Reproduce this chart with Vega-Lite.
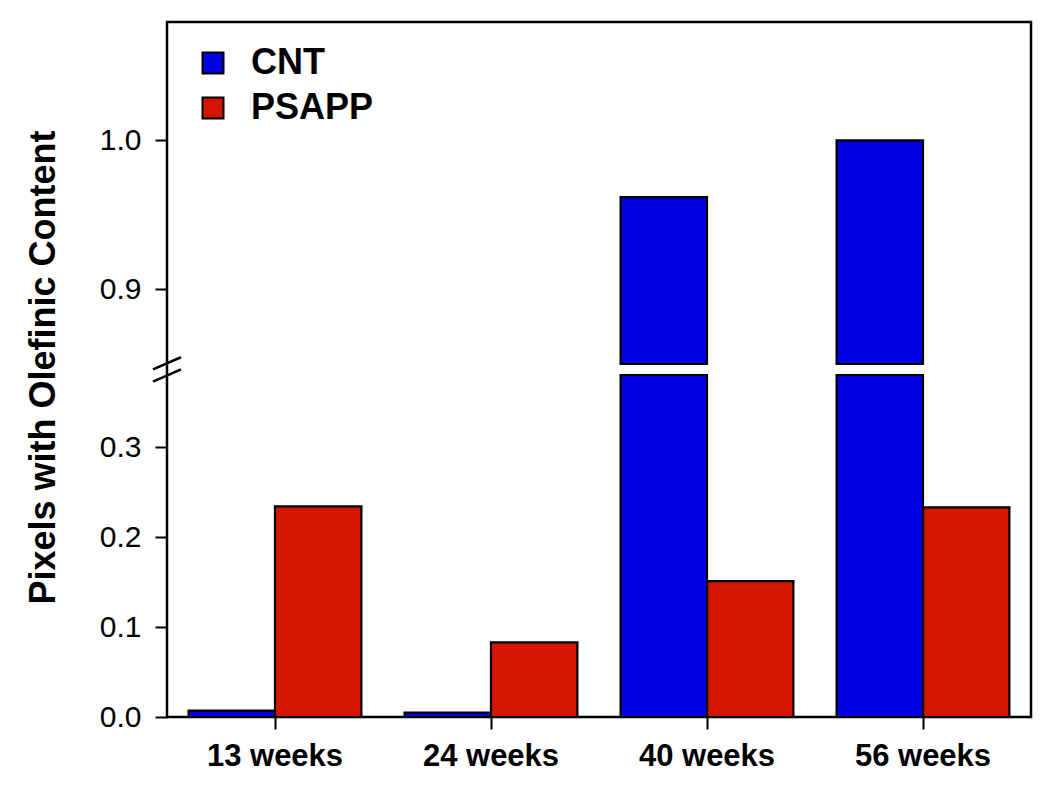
{
  "$schema": "https://vega.github.io/schema/vega-lite/v6.json",
  "width": 864,
  "height": 695,
  "autosize": {"type": "none"},
  "padding": {"left": 167, "top": 22, "right": 19, "bottom": 69},
  "background": "white",
  "data": {
    "values": [
      {"age": "13 weeks", "group": "CNT", "value": 0.007},
      {"age": "13 weeks", "group": "PSAPP", "value": 0.234},
      {"age": "24 weeks", "group": "CNT", "value": 0.005},
      {"age": "24 weeks", "group": "PSAPP", "value": 0.083},
      {"age": "40 weeks", "group": "CNT", "value": 0.962},
      {"age": "40 weeks", "group": "PSAPP", "value": 0.151},
      {"age": "56 weeks", "group": "CNT", "value": 1.0},
      {"age": "56 weeks", "group": "PSAPP", "value": 0.233}
    ]
  },
  "encoding": {
    "x": {
      "field": "age",
      "type": "nominal",
      "sort": ["13 weeks", "24 weeks", "40 weeks", "56 weeks"],
      "scale": {"paddingInner": 0.2, "paddingOuter": 0.1},
      "axis": {
        "title": null,
        "labelAngle": 0,
        "labelFont": "Liberation Sans",
        "labelFontSize": 31,
        "labelFontWeight": "bold",
        "labelColor": "black",
        "labelPadding": 12,
        "tickSize": 12,
        "tickWidth": 2,
        "tickColor": "black",
        "domain": false
      }
    },
    "xOffset": {"field": "group", "type": "nominal", "sort": ["CNT", "PSAPP"]},
    "color": {
      "field": "group",
      "type": "nominal",
      "scale": {"domain": ["CNT", "PSAPP"], "range": ["#0000E0", "#D21500"]},
      "legend": {
        "title": null,
        "orient": "none",
        "legendX": 28,
        "legendY": 23,
        "symbolType": "square",
        "symbolSize": 441,
        "symbolStrokeColor": "black",
        "symbolStrokeWidth": 2,
        "symbolOpacity": 1,
        "labelFont": "Liberation Sans",
        "labelFontSize": 36,
        "labelFontWeight": "bold",
        "labelColor": "black",
        "labelOffset": 20,
        "rowPadding": 9
      }
    }
  },
  "layer": [
    {
      "layer": [
        {
          "transform": [{"filter": "datum.value <= 0.38"}],
          "mark": {"type": "bar", "stroke": "black", "strokeWidth": 2.2},
          "encoding": {
            "y": {
              "field": "value",
              "type": "quantitative",
              "scale": {"domain": [0, 0.38], "range": [695, 353], "nice": false, "zero": false},
              "axis": {
                "values": [0, 0.1, 0.2, 0.3],
                "format": ".1f",
                "title": "Pixels with Olefinic Content",
                "titleFont": "Liberation Sans",
                "titleFontSize": 36,
                "titleFontWeight": "bold",
                "titleColor": "black",
                "titleAngle": -90,
                "titleX": -124,
                "titleY": 345,
                "titleAlign": "center",
                "titleBaseline": "middle",
                "labelFont": "Liberation Sans",
                "labelFontSize": 30,
                "labelColor": "black",
                "labelPadding": 14,
                "tickSize": 12,
                "tickWidth": 2,
                "tickColor": "black",
                "domain": false,
                "grid": false,
                "zindex": 1
              }
            }
          }
        },
        {
          "transform": [{"filter": "datum.value > 0.38"}],
          "mark": {"type": "bar", "stroke": "black", "strokeWidth": 2.2},
          "encoding": {
            "y": {"datum": 0.38, "type": "quantitative"},
            "y2": {"datum": 0}
          }
        },
        {
          "data": {"values": [{"mark": "axis break"}]},
          "mark": {"type": "rule", "stroke": "black", "strokeWidth": 2.5},
          "encoding": {
            "x": {"value": -14},
            "x2": {"value": 14},
            "y": {"datum": 0.3726, "type": "quantitative"},
            "y2": {"datum": 0.3863},
            "xOffset": null,
            "color": null
          }
        },
        {
          "data": {"values": [{"mark": "axis break"}]},
          "mark": {"type": "rule", "stroke": "black", "strokeWidth": 2.5},
          "encoding": {
            "x": {"value": -14},
            "x2": {"value": 14},
            "y": {"datum": 0.3863, "type": "quantitative"},
            "y2": {"datum": 0.3997},
            "xOffset": null,
            "color": null
          }
        }
      ]
    },
    {
      "transform": [{"filter": "datum.value > 0.85"}],
      "mark": {"type": "bar", "stroke": "black", "strokeWidth": 2.2},
      "encoding": {
        "y": {
          "field": "value",
          "type": "quantitative",
          "scale": {"domain": [0.85, 1.0794], "range": [342, 0], "nice": false, "zero": false},
          "axis": {
            "orient": "left",
            "values": [0.9, 1.0],
            "format": ".1f",
            "title": null,
            "labelFont": "Liberation Sans",
            "labelFontSize": 30,
            "labelColor": "black",
            "labelPadding": 14,
            "tickSize": 12,
            "tickWidth": 2,
            "tickColor": "black",
            "domain": false,
            "grid": false,
            "zindex": 1
          }
        },
        "y2": {"datum": 0.85}
      }
    }
  ],
  "resolve": {"scale": {"y": "independent"}},
  "config": {
    "view": {"stroke": "black", "strokeWidth": 2.5},
    "axis": {"grid": false}
  }
}
